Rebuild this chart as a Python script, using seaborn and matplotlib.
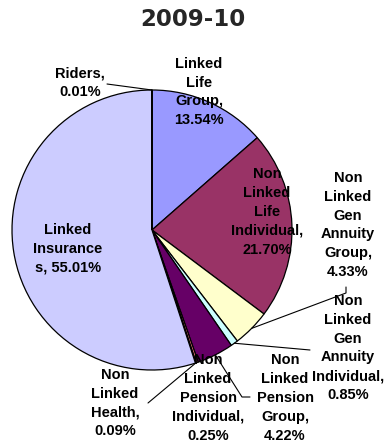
import numpy as np
import matplotlib
matplotlib.use("Agg")
import matplotlib.pyplot as plt
import seaborn as sns

# Premium share by product line, 2009-10 (clockwise from 12 o'clock)
categories = [
    "Linked Life Group",
    "Non Linked Life Individual",
    "Non Linked Gen Annuity Group",
    "Non Linked Gen Annuity Individual",
    "Non Linked Pension Group",
    "Non Linked Pension Individual",
    "Non Linked Health",
    "Linked Insurances",
    "Riders",
]
shares = [13.54, 21.70, 4.33, 0.85, 4.22, 0.25, 0.09, 55.01, 0.01]
label_lines = [
    ["Linked", "Life", "Group,"],
    ["Non", "Linked", "Life", "Individual,"],
    ["Non", "Linked", "Gen", "Annuity", "Group,"],
    ["Non", "Linked", "Gen", "Annuity", "Individual,"],
    ["Non", "Linked", "Pension", "Group,"],
    ["Non", "Linked", "Pension", "Individual,"],
    ["Non", "Linked", "Health,"],
    ["Linked", "Insurance", "s,"],
    ["Riders,"],
]
colors = ["#9999FF", "#993366", "#FFFFCC", "#CCFFFF", "#660066",
          "#FF8080", "#0066CC", "#CCCCFF", "#000080"]

# label block centres in figure pixels (x, y from top)
label_pos = [(199, 92), (267, 212), (348, 225), (348, 348), (285, 398),
             (208, 398), (115, 403), (68, 249), (80, 83)]
# leader line label-side points in figure pixels (None = no leader)
leader_pts = [None, None, [(346, 293), (346, 287)], [(310, 350)],
              [(242, 397), (250, 397)], None, [(148, 403)], None,
              [(107, 84)]]

sns.set_theme(style="white")
plt.rcParams["font.family"] = ["Liberation Sans", "DejaVu Sans"]

W, H = 387, 447
fig = plt.figure(figsize=(W / 100, H / 100), dpi=100)
fig.patch.set_facecolor("white")

cx, cy, R = 152, 230, 140
ax = fig.add_axes([(cx - R) / W, (H - cy - R) / H, 2 * R / W, 2 * R / H])

wedges, _ = ax.pie(shares, colors=sns.color_palette(colors), startangle=90,
                   counterclock=False,
                   wedgeprops=dict(edgecolor="black", linewidth=0.9))
ax.set_xlim(-1, 1)
ax.set_ylim(-1, 1)
ax.set_axis_off()


def to_data(px, py):
    return (px - cx) / R, (cy - py) / R


for i, (name, val) in enumerate(zip(categories, shares)):
    lines = list(label_lines[i])
    if lines[-1] == "s,":
        lines[-1] = f"s, {val:.2f}%"
    else:
        lines.append(f"{val:.2f}%")
    tx, ty = to_data(*label_pos[i])
    ax.text(tx, ty, "\n".join(lines), ha="center", va="center",
            multialignment="center", fontsize=10.5, fontweight="bold",
            color="black", linespacing=1.45, clip_on=False)

    if leader_pts[i] is not None:
        w = wedges[i]
        mid = np.deg2rad((w.theta1 + w.theta2) / 2)
        anchor = (np.cos(mid), np.sin(mid))
        pts = [anchor] + [to_data(*p) for p in leader_pts[i]]
        xs, ys = zip(*pts)
        ax.plot(xs, ys, color="black", linewidth=0.8, clip_on=False)

fig.text(193 / W, 1 - 20 / H, "2009-10", ha="center", va="center",
         fontsize=16.5, fontweight="bold", family="DejaVu Sans")

fig.savefig("out.png", dpi=100, facecolor="white")
